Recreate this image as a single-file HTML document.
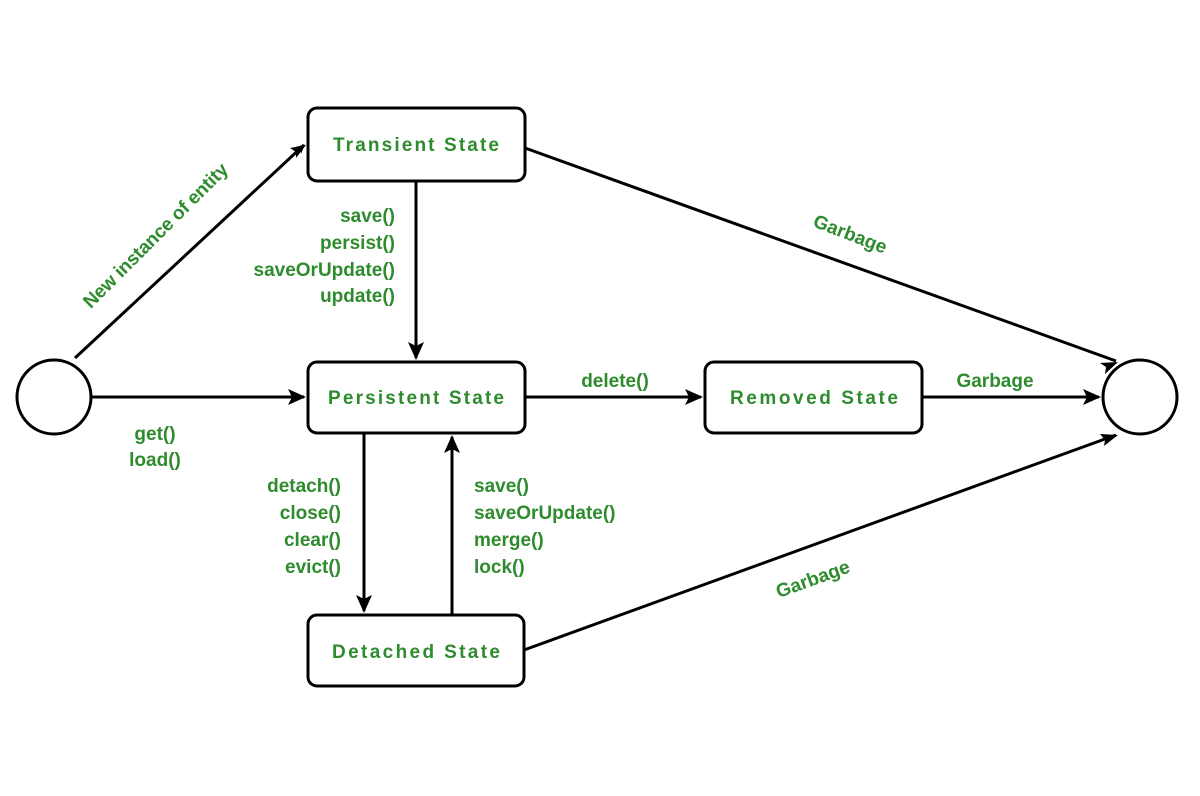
<!DOCTYPE html>
<html><head><meta charset="utf-8"><style>
html,body{margin:0;padding:0;background:#fff;}
svg{display:block;}
text{font-family:"Liberation Sans",sans-serif;font-weight:bold;fill:#2e8b2e;font-size:19px;}
</style></head><body>
<svg width="1200" height="796" viewBox="0 0 1200 796" xmlns="http://www.w3.org/2000/svg">
<defs>
<marker id="a" viewBox="0 0 10 10" refX="9" refY="5" markerWidth="9" markerHeight="9" orient="auto" markerUnits="userSpaceOnUse">
<path d="M0,0 L10,5 L0,10 L3,5 z" fill="#000"/>
</marker>
</defs>
<g stroke="#000" stroke-width="3" fill="none">
<rect x="308" y="108" width="217" height="73" rx="9"/>
<rect x="308" y="362" width="217" height="71" rx="9"/>
<rect x="705" y="362" width="217" height="71" rx="9"/>
<rect x="308" y="615" width="216" height="71" rx="9"/>
<circle cx="54" cy="397" r="37"/>
<circle cx="1140" cy="397" r="37"/>
</g>
<g stroke="#000" stroke-width="3" fill="none">
<line x1="75" y1="358" x2="304" y2="145" marker-end="url(#a)" style="marker-end:url(#a)"/>
<line x1="91" y1="397" x2="304" y2="397"/>
<line x1="525" y1="148" x2="1116" y2="361"/>
<line x1="416" y1="181" x2="416" y2="358"/>
<line x1="525" y1="397" x2="701" y2="397"/>
<line x1="922" y1="397" x2="1099" y2="397"/>
<line x1="364" y1="433" x2="364" y2="611"/>
<line x1="452" y1="615" x2="452" y2="437"/>
<line x1="524" y1="650" x2="1116" y2="435"/>
</g>
<g fill="#000">
<path d="M306,145 l-16,3 l6,4 l0,6 z"/>
<path d="M306,397 l-18,-8 l4,8 l-4,8 z"/>
<path d="M1118,362 l-18,1 l6,4 l-1,7 z"/>
<path d="M416,360 l-8,-18 l8,4 l8,-4 z"/>
<path d="M703,397 l-18,-8 l4,8 l-4,8 z"/>
<path d="M1101,397 l-18,-8 l4,8 l-4,8 z"/>
<path d="M364,613 l-8,-18 l8,4 l8,-4 z"/>
<path d="M452,435 l-8,18 l8,-4 l8,4 z"/>
<path d="M1118,435 l-18,-1 l5,6 l-1,6 z"/>
</g>
<text x="416" y="151" text-anchor="middle" textLength="166">Transient State</text>
<text x="416" y="404" text-anchor="middle" textLength="176">Persistent State</text>
<text x="814" y="404" text-anchor="middle" textLength="168">Removed State</text>
<text x="416" y="658" text-anchor="middle" textLength="168">Detached State</text>
<text transform="translate(160,240) rotate(-45)" text-anchor="middle" textLength="196">New instance of entity</text>
<g text-anchor="end">
<text x="395" y="222">save()</text>
<text x="395" y="249">persist()</text>
<text x="395" y="276">saveOrUpdate()</text>
<text x="395" y="302">update()</text>
<text x="341" y="492">detach()</text>
<text x="341" y="519">close()</text>
<text x="341" y="546">clear()</text>
<text x="341" y="573">evict()</text>
</g>
<g text-anchor="start">
<text x="474" y="492">save()</text>
<text x="474" y="519">saveOrUpdate()</text>
<text x="474" y="546">merge()</text>
<text x="474" y="573">lock()</text>
</g>
<text x="155" y="440" text-anchor="middle">get()</text>
<text x="155" y="466" text-anchor="middle">load()</text>
<text x="615" y="387" text-anchor="middle">delete()</text>
<text x="995" y="387" text-anchor="middle">Garbage</text>
<text transform="translate(848,240) rotate(21)" text-anchor="middle">Garbage</text>
<text transform="translate(815,585) rotate(-20)" text-anchor="middle">Garbage</text>
</svg>
</body></html>
